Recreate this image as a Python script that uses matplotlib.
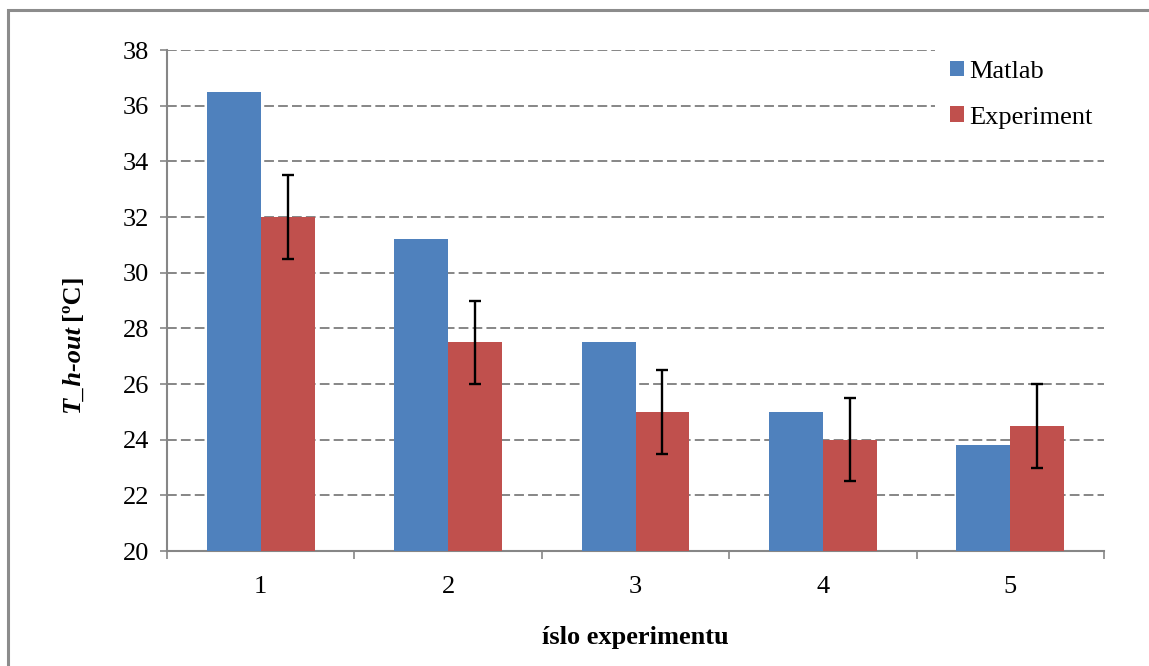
import matplotlib
matplotlib.use("Agg")
import matplotlib.pyplot as plt
import numpy as np
from matplotlib.patches import Rectangle

# Data
experiments = ["1", "2", "3", "4", "5"]
matlab = [36.5, 31.2, 27.5, 25.0, 23.8]
experiment = [32.0, 27.5, 25.0, 24.0, 24.5]
experiment_err = [1.5, 1.5, 1.5, 1.5, 1.5]
yticks = [20, 22, 24, 26, 28, 30, 32, 34, 36, 38]

plt.rcParams["font.family"] = ["Liberation Serif", "DejaVu Serif"]
plt.rcParams["lines.scale_dashes"] = False

FS = 19
W, H = 1149, 666
fig = plt.figure(figsize=(W / 100, H / 100), dpi=100)
ax = fig.add_axes([167 / W, 1 - 551 / H, (1104 - 167) / W, (551 - 50) / H])

grey = "#868686"
blue = "#4F81BD"
red = "#C0504D"

x = np.arange(len(experiments))
bw = 0.288
ax.bar(x - bw / 2, matlab, width=bw, color=blue, label="Matlab", zorder=3)
ax.bar(x + bw / 2, experiment, width=bw, color=red, label="Experiment", zorder=3)
ax.errorbar(x + bw / 2, experiment, yerr=experiment_err, fmt="none",
            ecolor="black", elinewidth=1.7, capsize=4.3, capthick=1.7, zorder=4)

ax.set_xlim(-0.5, len(experiments) - 0.5)
ax.set_ylim(20, 38)
ax.set_yticks(yticks)
ax.set_xticks(x)
ax.set_xticklabels(experiments)
ax.set_xticks(np.arange(-0.5, len(experiments)), minor=True)

for y in yticks[1:]:
    ax.axhline(y, color=grey, lw=1.4, ls=(0, (7, 3)), zorder=1)

for s in ["top", "right"]:
    ax.spines[s].set_visible(False)
for s in ["left", "bottom"]:
    ax.spines[s].set_color(grey)
    ax.spines[s].set_linewidth(1.5)

ax.tick_params(axis="y", which="major", direction="out", length=5, width=1.2,
               color=grey, labelsize=FS, pad=8)
ax.tick_params(axis="x", which="major", length=0, labelsize=FS, pad=18)
ax.tick_params(axis="x", which="minor", direction="out", length=6, width=1.2,
               color=grey)

ax.set_xlabel("íslo experimentu", fontsize=FS, fontweight="bold", labelpad=20)

# Axis title with mixed styles, stacked along the rotated baseline
fig.text(79 / W, 1 - 325 / H, "T_h-out", fontsize=FS, fontweight="bold",
         fontstyle="italic", rotation=90, rotation_mode="anchor",
         ha="right", va="baseline")
fig.text(79 / W, 1 - 320 / H, "[ºC]", fontsize=FS, fontweight="bold",
         rotation=90, rotation_mode="anchor", ha="left", va="baseline")

leg = ax.legend(loc="upper left", bbox_to_anchor=(935 / W, 1 - 46 / H),
                bbox_transform=fig.transFigure, frameon=True, fancybox=False,
                fontsize=FS, handlelength=0.55, handleheight=0.55,
                handletextpad=0.2, labelspacing=0.89, borderpad=0.55,
                borderaxespad=0)
leg.get_frame().set_facecolor("white")
leg.get_frame().set_edgecolor("none")
leg.get_frame().set_alpha(1)
leg.set_zorder(5)

# Outer chart border
fig.patches.append(Rectangle((8 / W, -0.1), 1.2, (1 - 10.5 / H) + 0.1,
                             transform=fig.transFigure, fill=False,
                             edgecolor="#8c8c8c", lw=2.2, zorder=0))

fig.savefig("out.png", dpi=100)
